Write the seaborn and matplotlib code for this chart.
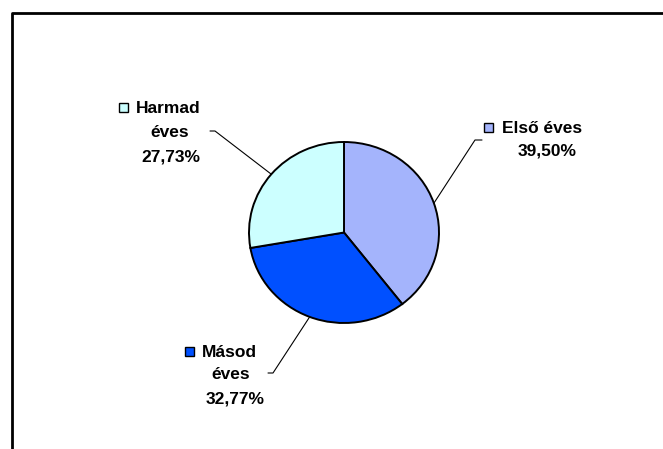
import matplotlib
matplotlib.use("Agg")
import numpy as np
import matplotlib.pyplot as plt
import seaborn as sns
from matplotlib.patches import Rectangle

sns.set_style("white")
plt.rcParams["font.family"] = ["Liberation Sans", "DejaVu Sans"]

# Data
years = ["Első éves", "Másod éves", "Harmad éves"]
shares = [39.50, 32.77, 27.73]
colors = ["#A4B4FC", "#0050FF", "#CCFFFF"]

W, H = 663, 449
fig = plt.figure(figsize=(W / 100, H / 100), dpi=100)

# pie box in pixel coords (slightly wider than tall, like the original)
cx, cy, rx, ry = 344, 232.5, 95, 90.5
ax = fig.add_axes([(cx - rx) / W, (H - cy - ry) / H, 2 * rx / W, 2 * ry / H])
wedges, _ = ax.pie(shares, colors=colors, startangle=90, counterclock=False,
                   wedgeprops=dict(edgecolor="black", linewidth=1.4))
for w in wedges:
    w.set_clip_on(False)
ax.set_xlim(-1, 1)
ax.set_ylim(-1, 1)
ax.set_aspect("auto")
ax.axis("off")

# overlay in pixel coords for frame, leader lines and labels
ov = fig.add_axes([0, 0, 1, 1], zorder=3)
ov.set_xlim(0, W)
ov.set_ylim(H, 0)
ov.axis("off")
ov.patch.set_visible(False)

# chart area border (cut off at right/bottom)
ov.plot([11.5, 11.5, W + 5], [H + 5, 12.5, 12.5], color="black", lw=2, clip_on=False)

# label layout: elbow, end of leader, key square, head line, extra lines
layout = [
    dict(elbow=(475, 140), end=(482, 140), sq=(484, 123), head=(502, 133),
         lines=["Első éves"], extra=[(547, 156)]),
    dict(elbow=(273, 373), end=(268, 373), sq=(185, 347), head=(202, 357),
         lines=["Másod", "éves"], extra=[(231, 379), (235, 403)]),
    dict(elbow=(215, 131), end=(210, 131), sq=(119, 103), head=(136, 113),
         lines=["Harmad", "éves"], extra=[(170, 137), (171, 161)]),
]

fs = 12.5
cum = np.cumsum([0] + shares)
total = sum(shares)
for i, (name, val, col) in enumerate(zip(years, shares, colors)):
    lay = layout[i]
    mid = np.deg2rad(90 - (cum[i] + val / 2) / total * 360)
    x0, y0 = cx + rx * np.cos(mid), cy - ry * np.sin(mid)
    ex, ey = lay["elbow"]
    nx, ny = lay["end"]
    ov.plot([x0, ex, nx], [y0, ey, ny], color="black", lw=0.8)

    sx, sy = lay["sq"]
    ov.add_patch(Rectangle((sx, sy), 9, 9, facecolor=col, edgecolor="black", lw=1))
    hx, hy = lay["head"]
    ov.text(hx, hy, lay["lines"][0], fontsize=fs, fontweight="bold", color="black",
            ha="left", va="baseline")
    rest = lay["lines"][1:] + [f"{val:.2f}".replace(".", ",") + "%"]
    for txt, (tx, ty) in zip(rest, lay["extra"]):
        ov.text(tx, ty, txt, fontsize=fs, fontweight="bold", color="black",
                ha="center", va="baseline")

fig.savefig("out.png", dpi=100, facecolor="white")
